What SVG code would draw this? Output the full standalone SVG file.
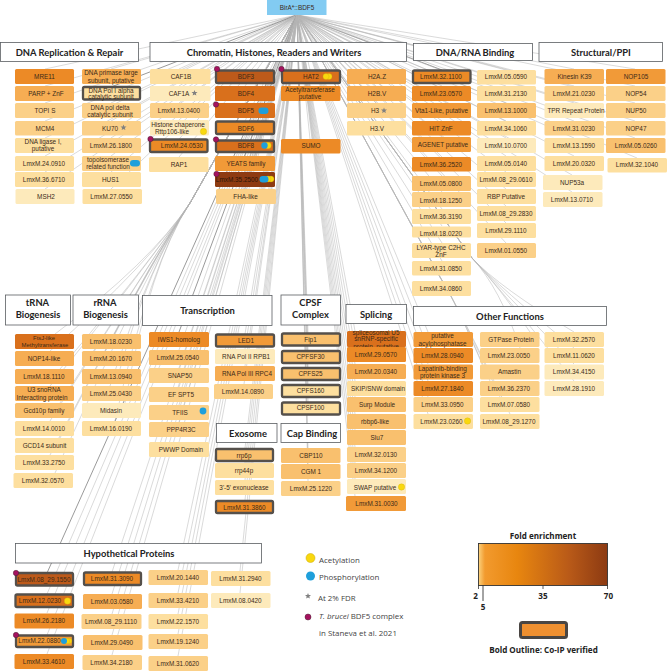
<svg xmlns="http://www.w3.org/2000/svg" width="667" height="671" viewBox="0 0 667 671">
<style>
text{font-family:"Liberation Sans",Arial,sans-serif;font-size:6.4px;fill:#3b2a18;text-anchor:middle}
.h text,text.h{font-family:Lato,"Open Sans",sans-serif;font-weight:700;font-size:9.4px;fill:#222}
.hb{fill:#fff;stroke:#5a5e62;stroke-width:.8}
.b{stroke:#55504b;stroke-width:2.300}
.c1{fill:#fdeabb}.c2{fill:#fddf9f}.c3{fill:#fbd088}.c4{fill:#f9c06e}.c5{fill:#f6ad53}.c6{fill:#f19a38}.c7{fill:#ec8a26}.c8{fill:#d9701c}.c9{fill:#bd5a1a}.c10{fill:#8e3b12}
.y{fill:#f9d80f;stroke:#c9a90a;stroke-width:.3}.p{fill:#1e9fdb}.m{fill:#a5125f;stroke:#4a2030;stroke-width:.5}.s{fill:#808080}
#connectors path{stroke:#b4b4b4;stroke-width:.5;fill:none}
#connectors path.d{stroke:#6e6e6e;stroke-width:.7}
.l text,text.l{font-family:"Open Sans","Noto Sans",sans-serif;font-size:7.9px;fill:#444;text-anchor:start}
.t{font-family:"Open Sans","Noto Sans",sans-serif;font-weight:700;font-size:8.1px;fill:#222}
</style>
<defs>
<linearGradient id="fold"><stop offset="0" stop-color="#fbd27e"/><stop offset=".05" stop-color="#f29a2e"/><stop offset=".3" stop-color="#e8860f"/><stop offset=".7" stop-color="#b95a18"/><stop offset="1" stop-color="#8c3a12"/></linearGradient>
<path id="star" d="M0-3 .8-1 3-.9 1.3.4 1.9 2.6 0 1.4-1.9 2.6-1.3.4-3-.9-.8-1Z"/>
</defs>
<g id="connectors">
<path d="M297 15L45 69"/><path d="M297 15L45 86"/><path d="M297 15L45 103"/><path d="M297 15L45 121"/><path d="M297 15L45 138"/><path d="M297 15L45 156"/><path d="M297 15L45 172"/><path d="M297 15L45 189"/>
<path d="M297 15L111 69"/><path class="d" d="M297 15L111 87"/><path d="M297 15L111 103"/><path d="M297 15L111 121"/><path d="M297 15L111 138"/><path d="M297 15L111 156"/><path d="M297 15L111 172"/><path d="M297 15L111 189"/>
<path d="M297 15L179 69"/><path d="M297 15L179 86"/><path d="M297 15L179 103"/><path d="M297 15L179 120"/><path d="M297 15L179 139"/><path d="M297 15L179 157"/>
<path d="M297 15L245 70"/><path d="M297 15L245 86"/><path d="M297 15L245 103"/><path d="M297 15L245 121"/><path d="M297 15L245 140"/><path d="M297 15L245 156"/><path d="M297 15L245 172"/><path d="M297 15L245 189"/>
<path d="M297 15L310 70"/><path d="M297 15L310 86"/><path d="M297 15L310 139"/>
<path d="M297 15L376 69"/><path d="M297 15L376 86"/><path d="M297 15L376 103"/><path d="M297 15L376 121"/>
<path class="d" d="M297 15L442 70"/><path d="M297 15L442 86"/><path d="M297 15L442 103"/><path d="M297 15L442 121"/><path d="M297 15L442 137"/><path d="M297 15L442 157"/><path d="M297 15L442 176"/><path d="M297 15L442 192"/><path d="M297 15L442 209"/><path d="M297 15L442 226"/><path d="M297 15L442 243"/><path d="M297 15L442 261"/><path d="M297 15L442 281"/>
<path d="M297 15L506 70"/><path d="M297 15L506 86"/><path d="M297 15L506 103"/><path d="M297 15L506 121"/><path d="M297 15L506 138"/><path d="M297 15L506 156"/><path d="M297 15L506 172"/><path d="M297 15L506 189"/><path d="M297 15L506 206"/><path d="M297 15L506 223"/><path d="M297 15L506 243"/>
<path d="M297 15L574 69"/><path d="M297 15L574 86"/><path d="M297 15L574 103"/><path d="M297 15L574 121"/><path d="M297 15L574 138"/><path d="M297 15L574 156"/><path d="M297 15L572 175"/><path d="M297 15L572 192"/>
<path d="M297 15L635 69"/><path d="M297 15L635 86"/><path d="M297 15L635 103"/><path d="M297 15L635 121"/><path d="M297 15L635 138"/><path d="M297 15L637 158"/>
<path d="M297 15L190 203Q150 263 55 334"/><path d="M297 15L190 203Q150 263 50 351"/><path d="M297 15L190 203Q150 263 60 369"/><path d="M297 15L190 203Q150 263 50 386"/><path d="M297 15L190 203Q150 263 60 403"/><path d="M297 15L190 203Q150 263 50 421"/><path d="M297 15L190 203Q150 263 60 438"/><path d="M297 15L190 203Q150 263 50 455"/><path d="M297 15L190 203Q150 263 55 473"/>
<path d="M297 15L190 203Q150 263 115 334"/><path d="M297 15L190 203Q150 263 105 351"/><path d="M297 15L190 203Q150 263 120 369"/><path d="M297 15L190 203Q150 263 110 386"/><path d="M297 15L190 203Q150 263 125 403"/><path d="M297 15L190 203Q150 263 115 421"/>
<path class="d" d="M297 15L179 332"/><path d="M297 15L179 350"/><path d="M297 15L179 368"/><path d="M297 15L179 387"/><path d="M297 15L179 405"/><path d="M297 15L179 422"/><path d="M297 15L179 442"/>
<path d="M297 15L245 334"/><path d="M297 15L245 349"/><path d="M297 15L245 366"/><path d="M297 15L244 384"/>
<path d="M297 15L308 333"/><path d="M297 15L308 350"/><path d="M297 15L308 367"/><path d="M297 15L308 384"/><path d="M297 15L308 402"/>
<path d="M297 15L245 448"/><path d="M297 15L245 463"/><path d="M297 15L245 480"/><path d="M297 15L245 500"/>
<path d="M297 15L308 448"/><path d="M297 15L308 466"/><path d="M297 15L308 481"/>
<path d="M297 15L355 331"/><path d="M297 15L355 347"/><path d="M297 15L355 364"/><path d="M297 15L355 381"/><path d="M297 15L355 397"/><path d="M297 15L355 414"/><path d="M297 15L355 430"/><path d="M297 15L355 447"/><path d="M297 15L355 463"/><path d="M297 15L355 479"/><path d="M297 15L355 496"/>
<path d="M297 15L428 332"/><path d="M297 15L428 348"/><path d="M297 15L428 364"/><path d="M297 15L428 381"/><path d="M297 15L428 397"/><path d="M297 15L428 414"/>
<path d="M297 15L472 258Q500 288 530 332"/><path d="M297 15L472 258Q500 288 520 348"/><path d="M297 15L440 277Q455 300 482 364"/><path d="M297 15L440 277Q455 300 490 381"/><path d="M297 15L440 277Q455 300 500 397"/><path d="M297 15L440 277Q455 300 510 414"/>
<path d="M297 15L472 258Q500 288 574 332"/><path d="M297 15L472 258Q500 288 574 348"/><path d="M297 15L472 258Q500 288 574 364"/><path d="M297 15L472 258Q500 288 574 381"/>
<path class="d" d="M297 15L47 573"/><path d="M297 15L47 594"/><path d="M297 15L47 613"/><path d="M297 15L47 635"/><path d="M297 15L47 654"/>
<path d="M297 15L112 572"/><path d="M297 15L112 594"/><path d="M297 15L112 614"/><path d="M297 15L112 635"/><path d="M297 15L112 655"/>
<path d="M297 15L178 570"/><path d="M297 15L178 593"/><path d="M297 15L178 614"/><path d="M297 15L178 634"/><path d="M297 15L178 656"/>
<path d="M297 15L240 571"/><path d="M297 15L240 593"/>
</g>

<g id="root"><rect x="267" y="0" width="59.5" height="15" fill="#82cbf2"/><text x="297" y="10" fill="#1d3a55">BirA*::BDF5</text></g>

<g id="headers" class="h">
<g id="h-dna"><rect class="hb" x="0.5" y="42.5" width="138" height="19"/><text x="69.5" y="55.5">DNA Replication &amp; Repair</text></g>
<g id="h-chromatin"><rect class="hb" x="150" y="42.5" width="256.5" height="19"/><text x="274" y="55.5">Chromatin, Histones, Readers and Writers</text></g>
<g id="h-binding"><rect class="hb" x="413.5" y="43.5" width="119" height="17"/><text x="475" y="55.5">DNA/RNA Binding</text></g>
<g id="h-structural"><rect class="hb" x="539" y="42.5" width="123.5" height="19"/><text x="601" y="55.5">Structural/PPI</text></g>
<g id="h-trna"><rect class="hb" x="5.5" y="295" width="65" height="30"/><text x="37.5" y="306">tRNA</text><text x="38" y="317.5">Biogenesis</text></g>
<g id="h-rrna"><rect class="hb" x="73" y="295" width="65.5" height="30"/><text x="105" y="306">rRNA</text><text x="105.500" y="317.500">Biogenesis</text></g>
<g id="h-transcription"><rect class="hb" x="142.500" y="295.500" width="129.500" height="30"/><text x="207.500" y="314">Transcription</text></g>
<g id="h-cpsf"><rect class="hb" x="281" y="295" width="59.500" height="30"/><text x="310.500" y="306">CPSF</text><text x="310.500" y="317.500">Complex</text></g>
<g id="h-splicing"><rect class="hb" x="346" y="304.500" width="60.500" height="19"/><text x="376" y="317.500">Splicing</text></g>
<g id="h-other"><rect class="hb" x="413.500" y="306.500" width="193" height="19"/><text x="510" y="319.500">Other Functions</text></g>
<g id="h-exosome"><rect class="hb" x="216.500" y="423.500" width="60.500" height="19"/><text x="248" y="436.500">Exosome</text></g>
<g id="h-cap"><rect class="hb" x="281" y="423.500" width="59.500" height="19"/><text x="312" y="436.500">Cap Binding</text></g>
<g id="h-hypo"><rect class="hb" x="15.500" y="543.500" width="246" height="19.500"/><text x="129" y="557">Hypothetical Proteins</text></g>
</g>

<g id="nodes">
<g id="n1"><rect class="c7" x="15" y="69" width="59" height="15" rx="1.500"/><text x="44.500" y="79">MRE11</text></g>
<g id="n2"><rect class="c5" x="15" y="86" width="59" height="15" rx="1.500"/><text x="46" y="95.500">PARP + ZnF</text></g>
<g id="n3"><rect class="c3" x="15" y="103" width="59" height="15" rx="1.500"/><text x="45" y="113">TOPI S</text></g>
<g id="n4"><rect class="c3" x="15" y="121" width="59" height="14.500" rx="1.500"/><text x="45" y="130.500">MCM4</text></g>
<g id="n5"><rect class="c2" x="15" y="138" width="59" height="15" rx="1.500"/><text x="43"><tspan x="43" y="143.500">DNA ligase I,</tspan><tspan x="43" y="151">putative</tspan></text></g>
<g id="n6"><rect class="c2" x="15" y="156" width="59" height="15" rx="1.500"/><text x="44" y="165.500">LmxM.24.0910</text></g>
<g id="n7"><rect class="c2" x="15" y="172" width="59" height="15" rx="1.500"/><text x="44" y="181.500">LmxM.36.6710</text></g>
<g id="n8"><rect class="c1" x="15.500" y="189" width="59" height="15" rx="1.500"/><text x="46" y="199">MSH2</text></g>

<g id="n9"><rect class="c5" x="82" y="69" width="59" height="15" rx="1.500"/><text><tspan x="111" y="75">DNA primase large</tspan><tspan x="111" y="82.500">subunit, putative</tspan></text></g>
<g id="n10"><rect class="c2 b" x="83" y="87" width="57" height="12.500" rx="1.500"/><text><tspan x="111" y="92.500">DNA Pol I alpha</tspan><tspan x="111" y="98.500">catalytic subunit</tspan></text></g>
<g id="n11"><rect class="c3" x="82" y="103" width="59" height="15" rx="1.500"/><text><tspan x="110" y="109.500">DNA pol delta</tspan><tspan x="110" y="117">catalytic subunit</tspan></text></g>
<g id="n12"><rect class="c3" x="82" y="121" width="59" height="14.500" rx="1.500"/><text x="110" y="130.500">KU70</text><use href="#star" class="s" x="123.500" y="127.500"/></g>
<g id="n13"><rect class="c3" x="82" y="138" width="59" height="15" rx="1.500"/><text x="111" y="148">LmxM.26.1800</text></g>
<g id="n14"><rect class="c3" x="82" y="156" width="59" height="15" rx="1.500"/><text><tspan x="108" y="161.500">topoisomerase</tspan><tspan x="108" y="169">related function</tspan></text><rect class="p" x="130" y="160" width="10" height="6.500" rx="3.200"/></g>
<g id="n15"><rect class="c2" x="82" y="172" width="59" height="15" rx="1.500"/><text x="110.500" y="182">HUS1</text></g>
<g id="n16"><rect class="c2" x="82.500" y="189" width="59.500" height="15" rx="1.500"/><text x="111.500" y="199">LmxM.27.0550</text></g>

<g id="n17"><rect class="c2" x="150" y="69" width="60.500" height="15" rx="1.500"/><text x="181" y="79">CAF1B</text></g>
<g id="n18"><rect class="c1" x="150" y="86" width="60.500" height="15" rx="1.500"/><text x="179" y="96">CAF1A</text><use href="#star" class="s" x="194.500" y="93"/></g>
<g id="n19"><rect class="c3" x="150" y="103" width="59" height="15" rx="1.500"/><text x="179" y="113">LmxM.13.0400</text></g>
<g id="n20"><rect class="c1" x="150" y="120" width="59" height="15.500" rx="1.500"/><text><tspan x="178" y="126.500">Histone chaperone</tspan><tspan x="172" y="134">Rttp106-like</tspan></text><circle class="y" cx="203.500" cy="131.500" r="3.200"/></g>
<g id="n21"><rect class="c7 b" x="150" y="139.500" width="57.500" height="12.500" rx="1.500"/><text x="182" y="148">LmxM.24.0530</text><circle class="m" cx="150.500" cy="139" r="2.700"/></g>
<g id="n22"><rect class="c2" x="149" y="157" width="59.500" height="15" rx="1.500"/><text x="179" y="167">RAP1</text></g>

<g id="n23"><rect class="c9 b" x="216" y="70.500" width="58" height="12.500" rx="1.500"/><text x="246" y="79">BDF3</text><circle class="m" cx="217" cy="69" r="2.700"/></g>
<g id="n24"><rect class="c8" x="215" y="86" width="60" height="15" rx="1.500"/><text x="246" y="96">BDF4</text></g>
<g id="n25"><rect class="c8" x="215" y="103" width="60" height="15" rx="1.500"/><text x="246" y="113">BDF5</text><rect class="p" x="258.500" y="107.500" width="10" height="6.500" rx="3.200"/><circle class="m" cx="216" cy="104.500" r="2.700"/></g>
<g id="n26"><rect class="c7 b" x="216" y="121.500" width="58" height="12.500" rx="1.500"/><text x="246" y="130.500">BDF6</text></g>
<g id="n27"><rect class="c8 b" x="216" y="140.500" width="58" height="11.500" rx="1.500"/><text x="246" y="148">BDF8</text><circle class="y" cx="268" cy="145.500" r="3.200"/><circle class="p" cx="264.500" cy="145.500" r="3.200"/><circle class="m" cx="216" cy="139.500" r="2.700"/></g>
<g id="n28"><rect class="c6" x="215" y="156" width="60" height="15" rx="1.500"/><text x="246" y="166">YEATS family</text></g>
<g id="n29"><rect class="c10" x="215" y="172" width="60" height="15" rx="1.500"/><text x="237" y="182" style="fill:#2a1408">LmxM.35.2500</text><circle class="y" cx="271" cy="179" r="3"/><circle class="y" cx="268" cy="179" r="3"/><rect class="p" x="259.500" y="176" width="9" height="6.500" rx="3.200"/><circle class="m" cx="216.500" cy="174" r="2.700"/></g>
<g id="n30"><rect class="c3" x="216" y="189" width="60" height="15" rx="1.500"/><text x="245.500" y="199">FHA-like</text></g>

<g id="n31"><rect class="c8 b" x="282" y="70.500" width="58" height="12.500" rx="1.500"/><text x="311" y="79">HAT2</text><circle class="y" cx="329" cy="76.500" r="3"/><circle class="y" cx="326" cy="76.500" r="3"/><circle class="m" cx="281.500" cy="69" r="2.700"/></g>
<g id="n32"><rect class="c7" x="281" y="86" width="59.500" height="15" rx="1.500"/><text><tspan x="310" y="92">Acetyltransferase</tspan><tspan x="310" y="99">putative</tspan></text></g>
<g id="n33"><rect class="c7" x="281" y="139" width="59.500" height="14.500" rx="1.500"/><text x="311" y="148">SUMO</text></g>

<g id="n34"><rect class="c5" x="347" y="69" width="59" height="15" rx="1.500"/><text x="377" y="79">H2A.Z</text></g>
<g id="n35"><rect class="c5" x="347" y="86" width="59" height="15" rx="1.500"/><text x="377" y="96">H2B.V</text></g>
<g id="n36"><rect class="c3" x="347" y="103" width="59" height="15" rx="1.500"/><text x="375" y="113">H3</text><use href="#star" class="s" x="384" y="110.500"/></g>
<g id="n37"><rect class="c2" x="347" y="121" width="59" height="14.500" rx="1.500"/><text x="377" y="130.500">H3.V</text></g>

<g id="n38"><rect class="c7 b" x="413" y="70.500" width="57.500" height="12.500" rx="1.500"/><text x="441" y="79">LmxM.32.1100</text></g>
<g id="n39"><rect class="c7" x="412" y="86" width="59" height="15" rx="1.500"/><text x="441" y="96">LmxM.23.0570</text></g>
<g id="n40"><rect class="c6" x="412" y="103" width="59" height="15" rx="1.500"/><text x="441.500" y="113">Vta1-Like, putative</text></g>
<g id="n41"><rect class="c7" x="412" y="121" width="59" height="14.500" rx="1.500"/><text x="441" y="130.500">HIT ZnF</text></g>
<g id="n42"><rect class="c6" x="412" y="137" width="59" height="15" rx="1.500"/><text x="443" y="147">AGENET putative</text></g>
<g id="n43"><rect class="c7" x="412" y="157" width="59" height="14.500" rx="1.500"/><text x="441" y="166.500">LmxM.36.2520</text></g>
<g id="n44"><rect class="c4" x="412" y="176" width="59" height="15" rx="1.500"/><text x="441" y="186">LmxM.05.0800</text></g>
<g id="n45"><rect class="c3" x="412" y="192" width="59" height="15" rx="1.500"/><text x="441" y="202.500">LmxM.18.1250</text></g>
<g id="n46"><rect class="c2" x="412" y="209" width="59" height="15" rx="1.500"/><text x="441" y="219">LmxM.36.3190</text></g>
<g id="n47"><rect class="c2" x="412" y="226.500" width="59" height="11" rx="1.500"/><text x="441" y="236">LmxM.18.0220</text></g>
<g id="n48"><rect class="c2" x="412" y="243" width="59" height="15" rx="1.500"/><text><tspan x="441" y="249.500">LYAR-type C2HC</tspan><tspan x="441" y="256.500">ZnF</tspan></text></g>
<g id="n49"><rect class="c2" x="412" y="261" width="59" height="14.500" rx="1.500"/><text x="441" y="270.500">LmxM.31.0850</text></g>
<g id="n50"><rect class="c2" x="412" y="281" width="59" height="15" rx="1.500"/><text x="441" y="290.500">LmxM.34.0860</text></g>

<g id="n51"><rect class="c2" x="477" y="70" width="59" height="14.500" rx="1.500"/><text x="506" y="79">LmxM.05.0590</text></g>
<g id="n52"><rect class="c2" x="477" y="86" width="59" height="15" rx="1.500"/><text x="506" y="96">LmxM.31.2130</text></g>
<g id="n53"><rect class="c4" x="477" y="103" width="59" height="15" rx="1.500"/><text x="506" y="113">LmxM.13.1000</text></g>
<g id="n54"><rect class="c2" x="477" y="121" width="59" height="14.500" rx="1.500"/><text x="506" y="130.500">LmxM.34.1060</text></g>
<g id="n55"><rect class="c1" x="477" y="138" width="59" height="15" rx="1.500"/><text x="506" y="148">LmxM.10.0700</text></g>
<g id="n56"><rect class="c2" x="477" y="156" width="59" height="15" rx="1.500"/><text x="506" y="165.500">LmxM.05.0140</text></g>
<g id="n57"><rect class="c2" x="477" y="172" width="59" height="15" rx="1.500"/><text x="506" y="181.500">LmxM.08_29.0610</text></g>
<g id="n58"><rect class="c2" x="477" y="189" width="59" height="15" rx="1.500"/><text x="506" y="199">RBP Putative</text></g>
<g id="n59"><rect class="c2" x="477" y="206" width="59" height="15" rx="1.500"/><text x="506" y="215.500">LmxM.08_29.2830</text></g>
<g id="n60"><rect class="c2" x="477" y="223" width="59" height="15" rx="1.500"/><text x="506" y="232.500">LmxM.29.1110</text></g>
<g id="n61"><rect class="c3" x="477" y="243" width="59" height="15" rx="1.500"/><text x="506" y="252.500">LmxM.01.0550</text></g>

<g id="n62"><rect class="c5" x="544.500" y="69" width="59.500" height="15" rx="1.500"/><text x="574.500" y="79">Kinesin K39</text></g>
<g id="n63"><rect class="c3" x="544.500" y="86" width="59.500" height="15" rx="1.500"/><text x="574" y="96">LmxM.21.0230</text></g>
<g id="n64"><rect class="c1" x="544.500" y="103" width="59.500" height="15" rx="1.500"/><text x="576" y="113">TPR Repeat Protein</text></g>
<g id="n65"><rect class="c3" x="544.500" y="121" width="59.500" height="14.500" rx="1.500"/><text x="574" y="130.500">LmxM.31.0230</text></g>
<g id="n66"><rect class="c2" x="544.500" y="138" width="59.500" height="15" rx="1.500"/><text x="574" y="148">LmxM.13.1590</text></g>
<g id="n67"><rect class="c2" x="544.500" y="156" width="59.500" height="15" rx="1.500"/><text x="574" y="165.500">LmxM.20.0320</text></g>
<g id="n68"><rect class="c1" x="543" y="175" width="59.500" height="15" rx="1.500"/><text x="572" y="185">NUP53a</text></g>
<g id="n69"><rect class="c1" x="543" y="192" width="59.500" height="15" rx="1.500"/><text x="572" y="202">LmxM.13.0710</text></g>

<g id="n70"><rect class="c6" x="606" y="69" width="59.500" height="15" rx="1.500"/><text x="636" y="79">NOP105</text></g>
<g id="n71"><rect class="c3" x="606" y="86" width="59.500" height="15" rx="1.500"/><text x="636" y="96">NOP54</text></g>
<g id="n72"><rect class="c3" x="606" y="103" width="59.500" height="15" rx="1.500"/><text x="636" y="113">NUP50</text></g>
<g id="n73"><rect class="c3" x="606" y="121" width="59.500" height="14.500" rx="1.500"/><text x="636" y="130.500">NOP47</text></g>
<g id="n74"><rect class="c4" x="606" y="138" width="59.500" height="15" rx="1.500"/><text x="636" y="148">LmxM.05.0260</text></g>
<g id="n75"><rect class="c2" x="607.500" y="158" width="59.500" height="14.500" rx="1.500"/><text x="637" y="167">LmxM.32.1040</text></g>

<g id="n76"><rect class="c8" x="15" y="334" width="59" height="15" rx="1.500"/><text style="font-size:5.900px"><tspan x="44" y="339.500">FtsJ-like</tspan><tspan x="45" y="347">Methyltransferase</tspan></text></g>
<g id="n77"><rect class="c5" x="15" y="351" width="59" height="15" rx="1.500"/><text x="44" y="361">NOP14-like</text></g>
<g id="n78"><rect class="c5" x="15" y="369" width="59" height="15" rx="1.500"/><text x="44" y="378.500">LmxM.18.1110</text></g>
<g id="n79"><rect class="c5" x="15" y="386" width="59" height="15" rx="1.500"/><text><tspan x="44" y="392">U3 snoRNA</tspan><tspan x="42" y="399.500">Interacting protein</tspan></text></g>
<g id="n80"><rect class="c4" x="15" y="403" width="59" height="15" rx="1.500"/><text x="44" y="413">Gcd10p family</text></g>
<g id="n81"><rect class="c2" x="15" y="421" width="59" height="15" rx="1.500"/><text x="44" y="430.500">LmxM.14.0010</text></g>
<g id="n82"><rect class="c2" x="15" y="438" width="59" height="15" rx="1.500"/><text x="44.500" y="447.500">GCD14 subunit</text></g>
<g id="n83"><rect class="c2" x="15" y="455" width="59" height="15" rx="1.500"/><text x="44" y="465">LmxM.33.2750</text></g>
<g id="n84"><rect class="c2" x="13.500" y="473" width="59.500" height="15" rx="1.500"/><text x="43" y="483">LmxM.32.0570</text></g>

<g id="n85"><rect class="c4" x="82" y="334" width="59" height="15" rx="1.500"/><text x="111" y="343.500">LmxM.18.0230</text></g>
<g id="n86"><rect class="c4" x="82" y="351" width="59" height="15" rx="1.500"/><text x="111" y="361">LmxM.20.1670</text></g>
<g id="n87"><rect class="c4" x="82" y="369" width="59" height="15" rx="1.500"/><text x="111" y="378.500">LmxM.13.0940</text></g>
<g id="n88"><rect class="c3" x="82" y="386" width="59" height="15" rx="1.500"/><text x="111" y="395.500">LmxM.25.0430</text></g>
<g id="n89"><rect class="c1" x="82" y="403" width="59" height="15" rx="1.500"/><text x="111" y="413">Midasin</text></g>
<g id="n90"><rect class="c2" x="82" y="421" width="59" height="15" rx="1.500"/><text x="111" y="431">LmxM.16.0190</text></g>

<g id="n91"><rect class="c7" x="149" y="332" width="60" height="15" rx="1.500"/><text x="179" y="342">IWS1-homolog</text></g>
<g id="n92"><rect class="c4" x="149" y="350" width="60" height="15" rx="1.500"/><text x="178" y="360">LmxM.25.0540</text></g>
<g id="n93"><rect class="c3" x="149" y="368" width="60" height="15" rx="1.500"/><text x="180" y="378">SNAP50</text></g>
<g id="n94"><rect class="c3" x="149" y="387" width="60" height="15" rx="1.500"/><text x="181" y="397">EF SPT5</text></g>
<g id="n95"><rect class="c3" x="149" y="405" width="60" height="15" rx="1.500"/><text x="180" y="414.500">TFIIS</text><circle class="p" cx="203" cy="411" r="3.400"/></g>
<g id="n96"><rect class="c3" x="149" y="422" width="60" height="15" rx="1.500"/><text x="181" y="432">PPP4R3C</text></g>
<g id="n97"><rect class="c2" x="149" y="442" width="60" height="15" rx="1.500"/><text x="181" y="451.500">PWWP Domain</text></g>

<g id="n98"><rect class="c6 b" x="216" y="334.500" width="58" height="12" rx="1.500"/><text x="246" y="343">LED1</text></g>
<g id="n99"><rect class="c1" x="215" y="349" width="60" height="15" rx="1.500"/><text x="246" y="358.500">RNA Pol II RPB1</text></g>
<g id="n100"><rect class="c5" x="215" y="366" width="60" height="15" rx="1.500"/><text x="247" y="375.500">RNA Pol III RPC4</text></g>
<g id="n101"><rect class="c3" x="214" y="384" width="59" height="15" rx="1.500"/><text x="243" y="394">LmxM.14.0890</text></g>

<g id="n102"><rect class="c4 b" x="282" y="333.500" width="58" height="12" rx="1.500"/><text x="310.500" y="341.500">Fip1</text></g>
<g id="n103"><rect class="c4 b" x="282" y="351" width="58" height="12" rx="1.500"/><text x="310.500" y="358.500">CPFSF30</text></g>
<g id="n104"><rect class="c4 b" x="282" y="368" width="58" height="12" rx="1.500"/><text x="310.500" y="375.500">CPFS25</text></g>
<g id="n105"><rect class="c2 b" x="282" y="385" width="58" height="12" rx="1.500"/><text x="310.500" y="392.500">CPFS160</text></g>
<g id="n106"><rect class="c2 b" x="282" y="402.500" width="58" height="12" rx="1.500"/><text x="310.500" y="410">CPSF100</text></g>

<g id="n107"><rect class="c4 b" x="216" y="449" width="57" height="12" rx="1.500"/><text x="244" y="457.500">rrp6p</text></g>
<g id="n108"><rect class="c2" x="215" y="463" width="59" height="15" rx="1.500"/><text x="244" y="472.500">rrp44p</text></g>
<g id="n109"><rect class="c2" x="215" y="480" width="59" height="15" rx="1.500"/><text x="244" y="490">3'-5' exonuclease</text></g>
<g id="n110"><rect class="c7 b" x="216" y="501" width="57" height="12" rx="1.500"/><text x="244.500" y="509.500">LmxM.31.3860</text></g>

<g id="n111"><rect class="c4" x="281" y="448" width="59.500" height="15" rx="1.500"/><text x="311" y="457.500">CBP110</text></g>
<g id="n112"><rect class="c4" x="281" y="464" width="59.500" height="15" rx="1.500"/><text x="311" y="473.500">CGM 1</text></g>
<g id="n113"><rect class="c3" x="281" y="481" width="59.500" height="15" rx="1.500"/><text x="311" y="490.500">LmxM.25.1220</text></g>

<g id="n114"><rect class="c8" x="347" y="331" width="59" height="16" rx="1.500"/><text><tspan x="376" y="334.500">spliceosomal U5</tspan><tspan x="376" y="341">snRNP-specific</tspan><tspan x="376" y="348.500">protein, putative</tspan></text></g>
<g id="n115"><rect class="c7" x="347" y="347" width="59" height="15" rx="1.500"/><text x="376" y="357">LmxM.29.0570</text></g>
<g id="n116"><rect class="c5" x="347" y="364" width="59" height="15" rx="1.500"/><text x="376" y="373.500">LmxM.20.0340</text></g>
<g id="n117"><rect class="c2" x="347" y="381" width="59" height="15" rx="1.500"/><text x="378" y="390.500">SKIP/SNW domain</text></g>
<g id="n118"><rect class="c4" x="347" y="397" width="59" height="15" rx="1.500"/><text x="377" y="407">Surp Module</text></g>
<g id="n119"><rect class="c4" x="347" y="414" width="59" height="15" rx="1.500"/><text x="375" y="423.500">rbbp6-like</text></g>
<g id="n120"><rect class="c4" x="347" y="430" width="59" height="15" rx="1.500"/><text x="377" y="440">Slu7</text></g>
<g id="n121"><rect class="c3" x="347" y="447" width="59" height="15" rx="1.500"/><text x="376" y="456.500">LmxM.32.0130</text></g>
<g id="n122"><rect class="c3" x="347" y="463" width="59" height="15" rx="1.500"/><text x="376" y="473">LmxM.34.1200</text></g>
<g id="n123"><rect class="c1" x="347" y="479" width="59" height="15" rx="1.500"/><text x="375" y="489.500">SWAP putative</text><circle class="y" cx="401.500" cy="487" r="3.200"/></g>
<g id="n124"><rect class="c6" x="346" y="496" width="60" height="15" rx="1.500"/><text x="376.500" y="506">LmxM.31.0030</text></g>

<g id="n125"><rect class="c6" x="413.500" y="332" width="59.500" height="15" rx="1.500"/><text><tspan x="442.500" y="338">putative</tspan><tspan x="442.500" y="345.500">acylphosphatase</tspan></text></g>
<g id="n126"><rect class="c7" x="413.500" y="348" width="59.500" height="15" rx="1.500"/><text x="442.500" y="358">LmxM.28.0940</text></g>
<g id="n127"><rect class="c6" x="413.500" y="364.500" width="59.500" height="15" rx="1.500"/><text><tspan x="442.500" y="370.500">Lapatinib-binding</tspan><tspan x="442.500" y="377.500">protein kinase 3</tspan></text></g>
<g id="n128"><rect class="c7" x="413.500" y="381" width="59.500" height="15" rx="1.500"/><text x="442.500" y="390.500">LmxM.27.1840</text></g>
<g id="n129"><rect class="c3" x="413.500" y="397" width="59.500" height="15" rx="1.500"/><text x="442.500" y="407">LmxM.33.0950</text></g>
<g id="n130"><rect class="c2" x="413.500" y="414" width="59.500" height="15" rx="1.500"/><text x="441.500" y="423.500">LmxM.23.0260</text><circle class="y" cx="467.500" cy="421" r="3.200"/></g>

<g id="n131"><rect class="c3" x="480" y="332" width="59.500" height="15" rx="1.500"/><text x="511" y="341.500">GTPase Protein</text></g>
<g id="n132"><rect class="c3" x="480" y="348" width="59.500" height="15" rx="1.500"/><text x="509" y="358">LmxM.23.0050</text></g>
<g id="n133"><rect class="c3" x="480" y="364.500" width="59.500" height="15" rx="1.500"/><text x="509.500" y="374">Amastin</text></g>
<g id="n134"><rect class="c3" x="480" y="381" width="59.500" height="15" rx="1.500"/><text x="509" y="390.500">LmxM.36.2370</text></g>
<g id="n135"><rect class="c2" x="480" y="397" width="59.500" height="15" rx="1.500"/><text x="509" y="407">LmxM.07.0580</text></g>
<g id="n136"><rect class="c2" x="480" y="414" width="59.500" height="15" rx="1.500"/><text x="509" y="423.500">LmxM.08_29.1270</text></g>

<g id="n137"><rect class="c2" x="544.500" y="332" width="59.500" height="15" rx="1.500"/><text x="574" y="341.500">LmxM.32.2570</text></g>
<g id="n138"><rect class="c2" x="544.500" y="348" width="59.500" height="15" rx="1.500"/><text x="574" y="358">LmxM.11.0620</text></g>
<g id="n139"><rect class="c1" x="544.500" y="364.500" width="59.500" height="15" rx="1.500"/><text x="574" y="374">LmxM.34.4150</text></g>
<g id="n140"><rect class="c1" x="544.500" y="381" width="59.500" height="15" rx="1.500"/><text x="574" y="390.500">LmxM.28.1910</text></g>

<g id="n141"><rect class="c9 b" x="16" y="573" width="57" height="12.500" rx="1.500"/><text x="44" y="581.500">LmxM.08_29.1550</text><circle class="m" cx="16" cy="573" r="2.700"/></g>
<g id="n142"><rect class="c8 b" x="15.500" y="594.500" width="57.500" height="12.500" rx="1.500"/><text x="40" y="603">LmxM.12.0230</text><circle class="y" cx="67.500" cy="601" r="3.200"/></g>
<g id="n143"><rect class="c7" x="14.500" y="613.500" width="59.500" height="15" rx="1.500"/><text x="44" y="623">LmxM.26.2180</text></g>
<g id="n144"><rect class="c6 b" x="16" y="635.500" width="57" height="11.500" rx="1.500"/><text x="39.500" y="643">LmxM.22.0880</text><circle class="y" cx="69" cy="641" r="2.800"/><circle class="y" cx="67" cy="641" r="2.800"/><circle class="p" cx="64" cy="641" r="3"/><circle class="m" cx="16" cy="635" r="2.700"/></g>
<g id="n145"><rect class="c7" x="14.500" y="654" width="59.500" height="15" rx="1.500"/><text x="44" y="664">LmxM.33.4610</text></g>

<g id="n146"><rect class="c7 b" x="84" y="572.500" width="57" height="12.500" rx="1.500"/><text x="112" y="581">LmxM.31.3090</text></g>
<g id="n147"><rect class="c5" x="83" y="594" width="59" height="15" rx="1.500"/><text x="112" y="603.500">LmxM.03.0580</text></g>
<g id="n148"><rect class="c3" x="81.500" y="614" width="60" height="15" rx="1.500"/><text x="111" y="624">LmxM.08_29.1110</text></g>
<g id="n149"><rect class="c4" x="83" y="635" width="59.500" height="15" rx="1.500"/><text x="112" y="645">LmxM.29.0490</text></g>
<g id="n150"><rect class="c3" x="82.500" y="655" width="59.500" height="15" rx="1.500"/><text x="111.500" y="665">LmxM.34.2180</text></g>

<g id="n151"><rect class="c3" x="148.500" y="570" width="59.500" height="15" rx="1.500"/><text x="178" y="580">LmxM.20.1440</text></g>
<g id="n152"><rect class="c3" x="148.500" y="593" width="59.500" height="15" rx="1.500"/><text x="178" y="602.500">LmxM.33.4210</text></g>
<g id="n153"><rect class="c2" x="148.500" y="614" width="59.500" height="15" rx="1.500"/><text x="178" y="624">LmxM.22.1570</text></g>
<g id="n154"><rect class="c3" x="148.500" y="634" width="59.500" height="15" rx="1.500"/><text x="178" y="644">LmxM.19.1240</text></g>
<g id="n155"><rect class="c3" x="148.500" y="656" width="59.500" height="15" rx="1.500"/><text x="178" y="665.500">LmxM.31.0620</text></g>

<g id="n156"><rect class="c2" x="211" y="571" width="59.500" height="15" rx="1.500"/><text x="240.500" y="580.500">LmxM.31.2940</text></g>
<g id="n157"><rect class="c1" x="211" y="593" width="59.500" height="15" rx="1.500"/><text x="240.500" y="603">LmxM.08.0420</text></g>
</g>

<g id="legend">
<circle class="y" cx="310.500" cy="558" r="4.500" style="stroke-width:.5"/><text class="l" x="319" y="562.500">Acetylation</text>
<circle class="p" cx="310.500" cy="576" r="4.500"/><text class="l" x="319" y="580">Phosphorylation</text>
<use href="#star" class="s" x="308" y="596"/><text class="l" x="318" y="600.500">At 2% FDR</text>
<circle class="m" cx="308" cy="617" r="3"/><text class="l" x="319" y="619"><tspan font-style="italic">T. brucei</tspan> BDF5 complex</text>
<text class="l" x="319" y="636">in Staneva et al. 2021</text>
<text class="t" x="543" y="539">Fold enrichment</text>
<rect x="478.500" y="543.500" width="129" height="42" fill="url(#fold)" stroke="#333" stroke-width=".9"/>
<path d="M478.500 585V589M543 585V589M607.500 585V589" stroke="#333" stroke-width=".8" fill="none"/>
<path d="M483 585V601" stroke="#333" stroke-width=".9" fill="none"/>
<text class="t" x="475.500" y="599">2</text><text class="t" x="543" y="599">35</text><text class="t" x="608.500" y="599">70</text><text class="t" x="483" y="610">5</text>
<rect x="520.500" y="622.500" width="46" height="15" rx="2" fill="#ef9030" stroke="#4a4643" stroke-width="3"/>
<text class="t" x="543.500" y="653">Bold Outline: Co-IP verified</text>
</g>
</svg>
